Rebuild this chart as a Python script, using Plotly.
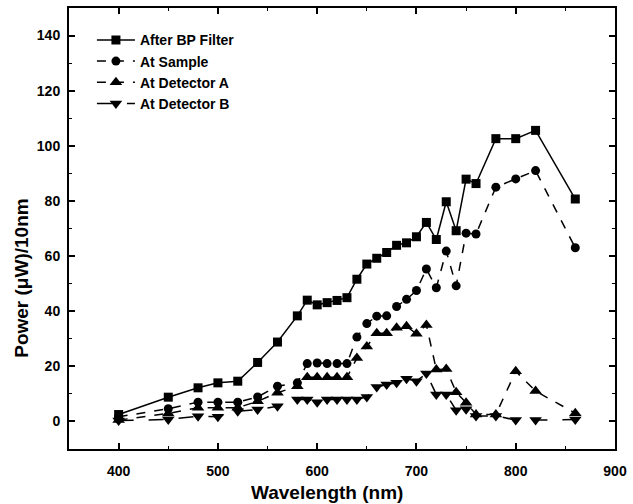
import plotly.graph_objects as go

wavelength = [400, 450, 480, 500, 520, 540, 560, 580, 590, 600, 610, 620, 630, 640, 650,
              660, 670, 680, 690, 700, 710, 720, 730, 740, 750, 760, 780, 800, 820, 860]

after_bp = [2.5, 8.8, 12.2, 14.0, 14.6, 21.4, 28.8, 38.3, 44.0, 42.3, 43.1, 43.9, 44.9, 51.6, 57.1,
            59.2, 61.3, 63.9, 64.8, 67.0, 72.2, 66.0, 79.7, 69.2, 87.9, 86.3, 102.6, 102.6, 105.6, 80.7]
at_sample = [1.7, 4.6, 7.0, 7.0, 7.0, 8.9, 12.8, 14.0, 21.0, 21.2, 21.0, 21.0, 21.0, 30.6, 35.5,
             38.2, 38.3, 41.7, 44.3, 47.5, 55.3, 48.5, 61.8, 49.2, 68.3, 68.0, 85.0, 88.0, 91.0, 63.0]
det_a = [0.5, 2.9, 5.0, 5.0, 5.0, 7.3, 10.4, 12.8, 16.0, 16.0, 16.0, 16.0, 16.0, 23.0, 27.2,
         32.0, 32.0, 34.0, 34.5, 31.8, 35.0, 18.8, 19.0, 10.6, 6.8, 2.5, 2.5, 18.2, 11.0, 3.0]
det_b = [0.3, 0.7, 1.9, 1.7, 3.7, 4.3, 5.5, 8.0, 8.0, 7.0, 8.0, 8.0, 8.0, 8.0, 8.9,
         12.5, 13.4, 14.0, 15.5, 14.6, 17.4, 9.8, 9.8, 4.1, 4.4, 2.0, 2.0, 0.5, 0.5, 0.7]

x_title = "Wavelength (nm)"
y_title = "Power (μW)/10nm"

series = [
    ("After BP Filter", after_bp, "square", "solid", 9),
    ("At Sample", at_sample, "circle", "dash", 9),
    ("At Detector A", det_a, "triangle-up", "dash", 11),
    ("At Detector B", det_b, "triangle-down", "longdash", 11),
]

fig = go.Figure()
for name, vals, sym, dash, size in series:
    fig.add_trace(go.Scatter(
        x=wavelength, y=vals, name=name, mode="lines+markers",
        line=dict(color="black", width=1.5, dash=dash),
        marker=dict(symbol=sym, size=size, color="black"),
    ))

font = dict(family="Liberation Sans, Arial, sans-serif", color="black", size=14, weight="bold")

axis_common = dict(
    showgrid=False, zeroline=False, showline=True, linecolor="black", linewidth=2,
    mirror="ticks", ticks="inside", ticklen=6, tickwidth=1.5, tickcolor="black",
    tickfont=font,
)

fig.update_xaxes(
    range=[350, 900], tick0=400, dtick=100, ticklabelstandoff=8,
    minor=dict(ticks="inside", ticklen=3, tickwidth=1, tickcolor="black", dtick=50),
    **axis_common,
)
fig.update_yaxes(
    range=[-10, 150], tick0=0, dtick=20, ticklabelstandoff=4,
    minor=dict(ticks="inside", ticklen=3, tickwidth=1, tickcolor="black", dtick=10),
    **axis_common,
)

# axis titles placed as annotations to match the original's off-centre placement
fig.add_annotation(text=x_title, xref="paper", yref="paper", x=0.472, y=-0.1, yanchor="middle",
                   yshift=-(493 - 449) + 0.1 * 443, showarrow=False, font=dict(font, size=19))
fig.add_annotation(text=y_title, xref="paper", yref="paper", x=0, y=0.386, textangle=-90,
                   xanchor="center", xshift=-(69 - 22), showarrow=False, font=dict(font, size=19))

fig.update_layout(
    width=633, height=504,
    margin=dict(l=69, r=15, t=6, b=55),
    paper_bgcolor="white", plot_bgcolor="white",
    font=font,
    showlegend=True,
    legend=dict(x=0.042, y=0.963, xanchor="left", yanchor="top",
                bgcolor="rgba(0,0,0,0)", font=dict(font, size=14),
                itemwidth=38, tracegroupgap=0),
)

fig.write_html("out.html")
